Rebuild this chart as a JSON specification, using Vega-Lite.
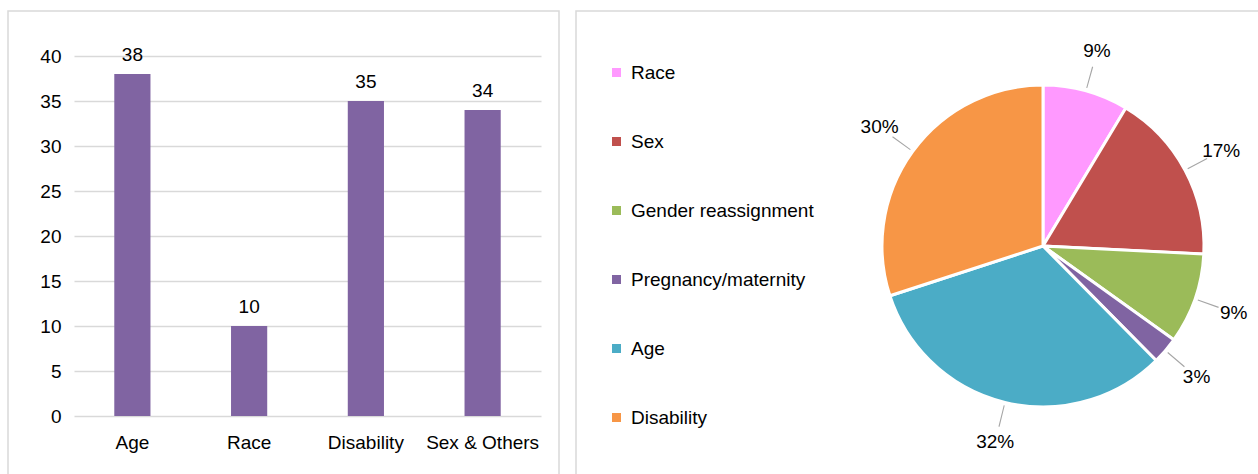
{
  "$schema": "https://vega.github.io/schema/vega-lite/v6.json",
  "padding": {"left": 7, "top": 10, "right": 0, "bottom": 0},
  "spacing": 15,
  "background": "white",
  "config": {
    "view": {"stroke": "#d9d9d9", "strokeWidth": 1.5},
    "font": "Liberation Sans",
    "text": {"font": "Liberation Sans"},
    "axis": {"labelFont": "Liberation Sans", "labelColor": "#000000", "labelFontSize": 19}
  },
  "hconcat": [
    {
      "width": 551,
      "height": 464,
      "data": {"values": [
        {"group": "Age", "count": 38},
        {"group": "Race", "count": 10},
        {"group": "Disability", "count": 35},
        {"group": "Sex & Others", "count": 34}
      ]},
      "encoding": {
        "x": {"field": "group", "type": "nominal", "sort": null,
          "scale": {"range": [66, 533], "paddingInner": 0.69, "paddingOuter": 0.345},
          "axis": {"title": null, "labelAngle": 0, "ticks": false, "domain": false, "grid": false, "offset": -59, "labelPadding": 17}},
        "y": {"field": "count", "type": "quantitative",
          "scale": {"domain": [0, 40], "range": [405, 45], "nice": false},
          "axis": {"title": null, "values": [0, 5, 10, 15, 20, 25, 30, 35, 40], "ticks": false, "domain": false, "offset": -55, "labelPadding": 2, "gridColor": "#d9d9d9", "gridWidth": 1.5}}
      },
      "layer": [
        {"mark": {"type": "bar", "color": "#8064A2"}},
        {"mark": {"type": "text", "baseline": "bottom", "dy": -9, "fontSize": 19, "color": "#000000"},
          "encoding": {"text": {"field": "count", "type": "quantitative"}}}
      ]
    },
    {
      "width": 684,
      "height": 464,
      "view": {"stroke": "#d9d9d9", "strokeWidth": 1.5, "fill": "white"},
      "data": {"values": [
        {"i": 1, "cat": "Race", "pct": 8.6, "label": "9%"},
        {"i": 2, "cat": "Sex", "pct": 17.2, "label": "17%"},
        {"i": 3, "cat": "Gender reassignment", "pct": 9.1, "label": "9%"},
        {"i": 4, "cat": "Pregnancy/maternity", "pct": 2.7, "label": "3%"},
        {"i": 5, "cat": "Age", "pct": 32.4, "label": "32%"},
        {"i": 6, "cat": "Disability", "pct": 30.0, "label": "30%"}
      ]},
      "encoding": {
        "theta": {"field": "pct", "type": "quantitative", "stack": true},
        "order": {"field": "i", "type": "quantitative"}
      },
      "layer": [
        {
          "mark": {"type": "arc", "outerRadius": 161, "stroke": "white", "strokeWidth": 3, "xOffset": 125, "yOffset": 3},
          "encoding": {
            "color": {"field": "cat", "type": "nominal",
              "scale": {"domain": ["Race", "Sex", "Gender reassignment", "Pregnancy/maternity", "Age", "Disability"],
                        "range": ["#FF99FF", "#C0504D", "#9BBB59", "#8064A2", "#4BACC6", "#F79646"]},
              "legend": {"orient": "none", "legendX": 599, "legendY": 52, "title": null, "symbolType": "square", "symbolSize": 81, "symbolStrokeWidth": 0, "labelFontSize": 19, "labelFont": "Liberation Sans", "labelColor": "#000000", "rowPadding": 49, "labelLimit": 300, "labelOffset": 5}}
          }
        },
        {
          "transform": [
            {"window": [{"op": "sum", "field": "pct", "as": "cum"}], "sort": [{"field": "i"}], "frame": [null, 0]},
            {"calculate": "datum.cum - datum.pct / 2 - 0.05", "as": "a1"},
            {"calculate": "datum.cum - datum.pct / 2 + 0.05", "as": "a2"}
          ],
          "mark": {"type": "arc", "innerRadius": 164, "outerRadius": 186, "color": "#a6a6a6", "xOffset": 125, "yOffset": 3},
          "encoding": {
            "theta": {"field": "a1", "type": "quantitative"},
            "theta2": {"field": "a2"}
          }
        },
        {
          "mark": {"type": "text", "radius": 202, "fontSize": 19, "color": "#000000", "xOffset": 125, "yOffset": 3},
          "encoding": {
            "detail": {"field": "cat", "type": "nominal"},
            "text": {"field": "label", "type": "nominal"}
          }
        }
      ]
    }
  ]
}
